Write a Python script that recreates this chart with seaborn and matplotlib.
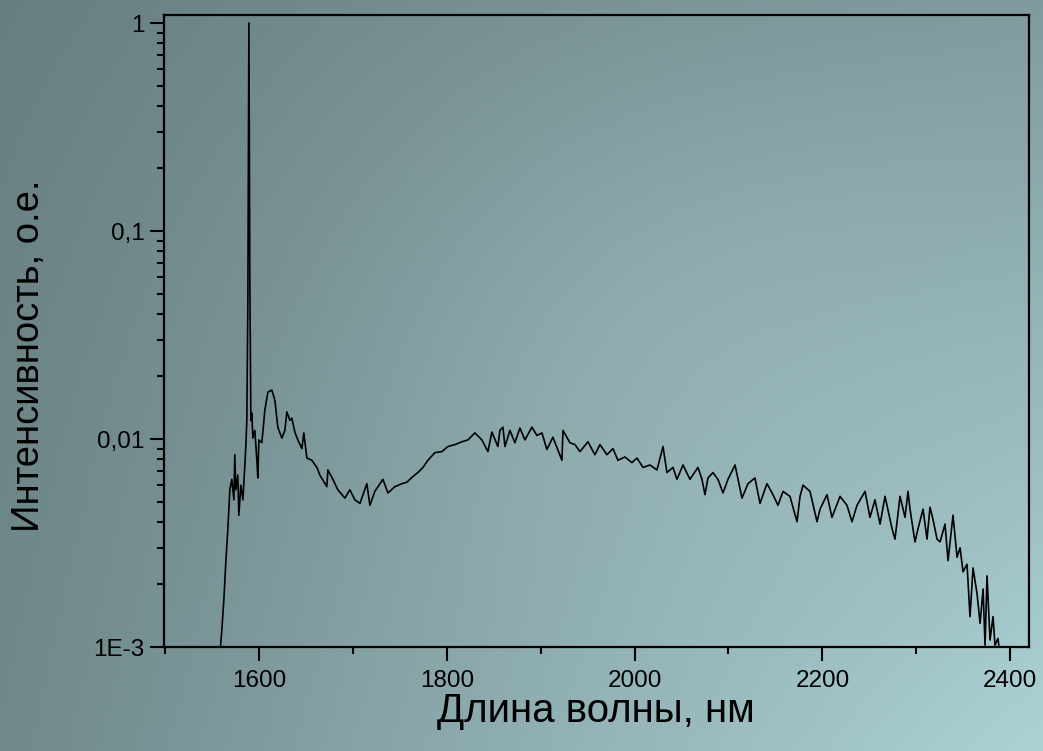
import numpy as np
import pandas as pd
import matplotlib
matplotlib.use("Agg")
import matplotlib.pyplot as plt
from matplotlib.ticker import FixedLocator, LogLocator, NullFormatter, MultipleLocator
import seaborn as sns

wavelength_nm = [
    1557.4, 1558.5, 1560.6, 1562.7, 1564.9, 1567.0, 1569.1, 1571.2, 1573.4, 1574.4,
    1575.5, 1577.6, 1578.7, 1580.8, 1583.0, 1585.1, 1586.2, 1587.2, 1588.3, 1589.4,
    1590.4, 1591.5, 1592.5, 1593.6, 1595.7, 1597.9, 1598.9, 1600.0, 1603.2, 1606.4,
    1609.6, 1613.8, 1617.0, 1620.2, 1624.5, 1627.7, 1629.8, 1633.0, 1635.1, 1638.3,
    1641.5, 1645.8, 1647.9, 1651.1, 1656.4, 1661.8, 1665.0, 1672.4, 1673.5, 1678.8,
    1684.1, 1691.6, 1696.9, 1702.2, 1707.6, 1715.0, 1718.2, 1723.5, 1732.1, 1737.4,
    1744.8, 1752.3, 1757.6, 1764.0, 1769.3, 1774.7, 1780.0, 1787.4, 1794.9, 1801.3,
    1808.7, 1816.2, 1822.6, 1830.0, 1837.5, 1843.9, 1848.1, 1854.5, 1856.7, 1859.9,
    1862.0, 1867.3, 1872.6, 1878.0, 1883.3, 1890.7, 1896.1, 1901.4, 1906.7, 1913.1,
    1922.7, 1923.8, 1931.2, 1936.5, 1941.9, 1950.4, 1957.8, 1963.2, 1970.6, 1977.0,
    1982.3, 1989.8, 1997.2, 2002.6, 2009.0, 2016.4, 2023.9, 2030.3, 2034.5, 2040.9,
    2045.2, 2051.6, 2059.0, 2067.5, 2071.8, 2075.0, 2078.2, 2083.5, 2088.8, 2094.2,
    2099.5, 2107.0, 2114.4, 2120.8, 2128.2, 2133.6, 2141.0, 2147.4, 2152.7, 2158.1,
    2165.5, 2173.0, 2176.2, 2179.4, 2186.8, 2194.3, 2197.5, 2204.9, 2210.2, 2218.8,
    2226.2, 2231.5, 2236.9, 2245.4, 2250.7, 2256.0, 2261.4, 2266.7, 2274.2, 2277.3,
    2282.7, 2288.0, 2291.2, 2293.3, 2298.6, 2301.8, 2307.2, 2311.4, 2314.6, 2317.8,
    2322.1, 2325.3, 2330.6, 2333.8, 2339.1, 2343.4, 2346.6, 2349.8, 2354.0, 2357.2,
    2360.4, 2364.7, 2367.9, 2371.1, 2373.2, 2375.3, 2378.5, 2381.7, 2383.8, 2387.0,
    2389.2,
]

intensity = [
    0.00087, 0.00092, 0.00121, 0.00168, 0.0026, 0.0037, 0.0057, 0.0064, 0.0051, 0.0084,
    0.0057, 0.0067, 0.0043, 0.0060, 0.0051, 0.0075, 0.0094, 0.0123, 0.0466, 1.0,
    0.058, 0.0123, 0.0133, 0.0101, 0.0110, 0.0079, 0.0065, 0.0099, 0.0096, 0.0138,
    0.0168, 0.0172, 0.0154, 0.0114, 0.0101, 0.0110, 0.0135, 0.0123, 0.0126, 0.0108,
    0.0099, 0.0090, 0.0107, 0.0081, 0.0079, 0.0073, 0.0067, 0.0059, 0.0071, 0.0064,
    0.0057, 0.0052, 0.0057, 0.0051, 0.0049, 0.0061, 0.0048, 0.0056, 0.0064, 0.0055,
    0.0059, 0.0061, 0.0062, 0.0066, 0.0069, 0.0073, 0.0079, 0.0086, 0.0087, 0.0092,
    0.0094, 0.0097, 0.0099, 0.0107, 0.0099, 0.0087, 0.0108, 0.0092, 0.0110, 0.0114,
    0.0092, 0.0110, 0.0096, 0.0113, 0.0099, 0.0114, 0.0104, 0.0107, 0.0089, 0.0102,
    0.0079, 0.0110, 0.0096, 0.0094, 0.0087, 0.0097, 0.0084, 0.0094, 0.0084, 0.0090,
    0.0079, 0.0082, 0.0077, 0.0081, 0.0073, 0.0075, 0.0071, 0.0092, 0.0069, 0.0073,
    0.0064, 0.0075, 0.0064, 0.0073, 0.0064, 0.0054, 0.0065, 0.0069, 0.0064, 0.0055,
    0.0064, 0.0075, 0.0052, 0.0061, 0.0065, 0.0049, 0.0061, 0.0054, 0.0048, 0.0056,
    0.0053, 0.0040, 0.0053, 0.0060, 0.0056, 0.0040, 0.0046, 0.0054, 0.0042, 0.0053,
    0.0048, 0.0040, 0.0048, 0.0056, 0.0042, 0.0051, 0.0039, 0.0053, 0.0037, 0.0033,
    0.0053, 0.0042, 0.0056, 0.0046, 0.0032, 0.0037, 0.0046, 0.0033, 0.0047, 0.0041,
    0.0033, 0.0032, 0.0039, 0.0026, 0.0043, 0.0027, 0.0030, 0.0023, 0.0025, 0.0014,
    0.0024, 0.0018, 0.0013, 0.0019, 0.00102, 0.0022, 0.00108, 0.0014, 0.00102, 0.0011,
    0.0009,
]

x_ticks = [1600, 1800, 2000, 2200, 2400]
y_ticks = [0.001, 0.01, 0.1, 1]
y_tick_labels = ["1E-3", "0,01", "0,1", "1"]
x_label = "Длина волны, нм"
y_label = "Интенсивность, о.е."

sns.set_style("ticks")
plt.rcParams["font.family"] = ["Liberation Sans", "DejaVu Sans"]

W, H = 1043, 751
fig = plt.figure(figsize=(W / 100, H / 100), dpi=100)

# background gradient
bg = fig.add_axes([0, 0, 1, 1], zorder=-10)
h, w = 200, 280
yy, xx = np.mgrid[0:1:h * 1j, 0:1:w * 1j]
tl = np.array([104, 127, 129]) / 255
tr = np.array([125, 153, 155]) / 255
bl = np.array([112, 137, 139]) / 255
br = np.array([172, 209, 213]) / 255
img = (tl * ((1 - xx) * (1 - yy))[..., None] + tr * (xx * (1 - yy))[..., None]
       + bl * ((1 - xx) * yy)[..., None] + br * (xx * yy)[..., None])
glow = np.exp(-(((xx - 0.62) / 0.35) ** 2 + ((yy - 0.4) / 0.45) ** 2))[..., None]
img = np.clip(img + 0.05 * glow, 0, 1)
bg.imshow(img, aspect="auto", extent=[0, 1, 0, 1], origin="upper")
bg.axis("off")

L, R, T, B = 164, 1029, 15, 647
ax = fig.add_axes([L / W, 1 - B / H, (R - L) / W, (B - T) / H])
ax.patch.set_alpha(0)

df = pd.DataFrame({"wl": wavelength_nm, "I": intensity})
sns.lineplot(data=df, x="wl", y="I", ax=ax, color="black", linewidth=1.2,
             estimator=None, sort=False)

ax.set_yscale("log")
ax.set_xlim(1499, 2420)
ax.set_ylim(0.001, 1.093)

ax.xaxis.set_major_locator(FixedLocator(x_ticks))
ax.xaxis.set_minor_locator(MultipleLocator(100))
ax.yaxis.set_major_locator(FixedLocator(y_ticks))
ax.set_yticklabels(y_tick_labels)
ax.yaxis.set_minor_locator(LogLocator(base=10, subs=np.arange(2, 10)))
ax.yaxis.set_minor_formatter(NullFormatter())

for s in ax.spines.values():
    s.set_visible(True)
    s.set_linewidth(1.6)
    s.set_color("black")

ax.tick_params(axis="both", which="major", direction="out", length=9.8, width=1.5,
               colors="black", labelsize=17.5)
ax.tick_params(axis="x", which="major", pad=7)
ax.tick_params(axis="y", which="major", pad=4)
ax.tick_params(axis="both", which="minor", direction="out", length=5, width=1.5,
               colors="black")
ax.tick_params(top=False, right=False, which="both")

ax.set_xlabel(x_label, fontsize=29, color="black")
ax.set_ylabel(y_label, fontsize=27.5, color="black")
ax.xaxis.set_label_coords((596 - L) / (R - L), (B - 692) / (B - T))
ax.yaxis.set_label_coords((47 - L) / (R - L), (B - 356) / (B - T))

fig.savefig("out.png", dpi=100)
